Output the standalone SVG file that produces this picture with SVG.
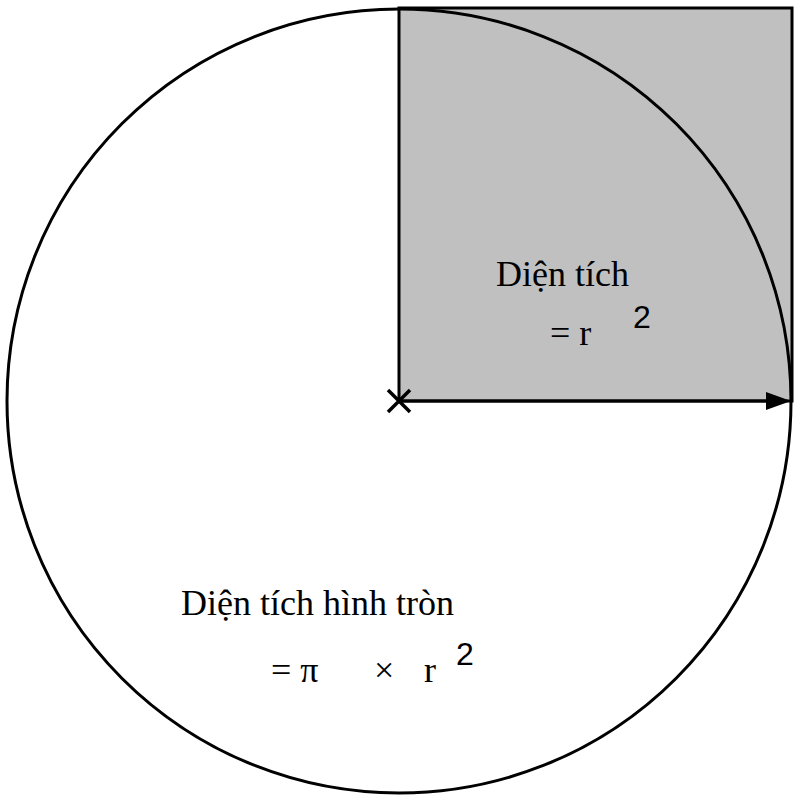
<svg xmlns="http://www.w3.org/2000/svg" width="800" height="800" viewBox="0 0 800 800">
<defs>
<style>
.t{font-family:"Liberation Serif","Times New Roman",serif;font-size:36px;fill:#000}
.s{font-family:"Liberation Sans",Arial,sans-serif;font-size:32px;fill:#000}
</style>
</defs>
<rect width="800" height="800" fill="#fff"/>
<g id="square">
<rect x="399" y="8" width="393" height="393" fill="#c0c0c0" stroke="#000" stroke-width="3"/>
</g>
<g id="circle">
<circle cx="399" cy="401" r="392" fill="none" stroke="#000" stroke-width="3"/>
</g>
<g id="center">
<path d="M388,390 L410,412 M410,390 L388,412" stroke="#000" stroke-width="3.5" fill="none"/>
</g>
<g id="connectors">
<line x1="399" y1="401" x2="767" y2="401" stroke="#000" stroke-width="3"/>
<path d="M766,392 L791,401 L766,410 Z" fill="#000"/>
</g>
<g id="square-label">
<text class="t" x="496" y="286">Diện tích</text>
<text class="t" x="550" y="345">= r</text>
<text class="s" x="633" y="328">2</text>
</g>
<g id="circle-label">
<text class="t" x="181" y="615">Diện tích hình tròn</text>
<text class="t" x="271" y="682">= π</text>
<text class="t" x="374" y="682">×</text>
<text class="t" x="424" y="682">r</text>
<text class="s" x="456" y="665">2</text>
</g>
</svg>
